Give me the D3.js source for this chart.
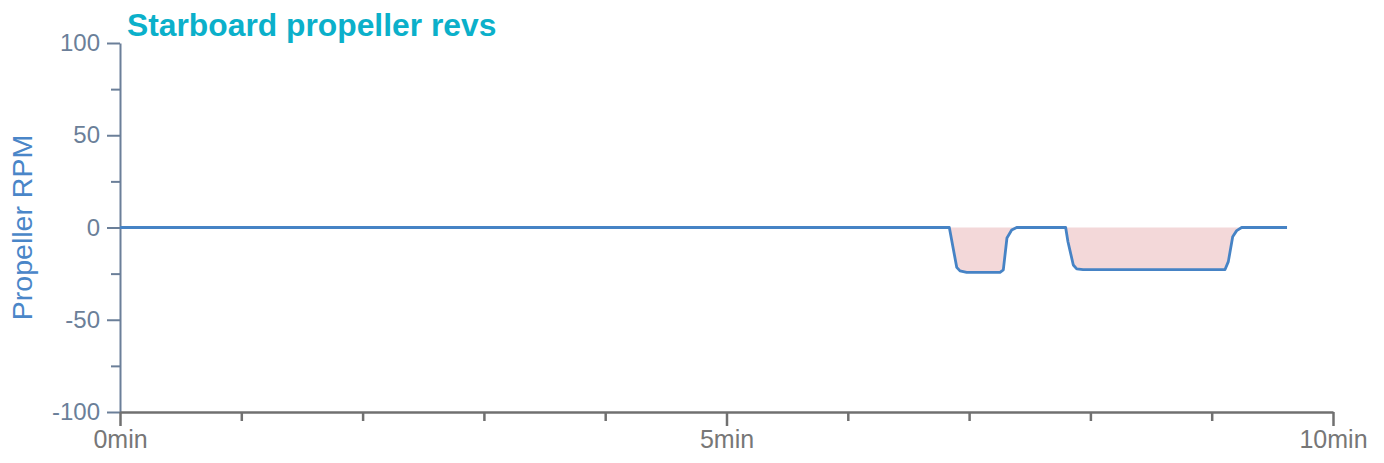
<!DOCTYPE html>
<html>
<head>
<meta charset="utf-8">
<script src="https://cdn.jsdelivr.net/npm/d3@7"></script>
<style>
  body { margin: 0; background: #fff; }
  svg { display: block; font-family: "Liberation Sans", Arial, sans-serif; }
</style>
</head>
<body>
<svg id="chart"></svg>
<script>
// time in minutes, propeller revs in RPM
var times = [0, 6.837, 6.898, 6.925, 6.98, 7.255, 7.282, 7.312, 7.351, 7.392,
             7.796, 7.815, 7.859, 7.887, 7.939, 9.110, 9.137, 9.173, 9.206, 9.247, 9.621];
var rpm   = [0, 0, -21.6, -23.5, -24.3, -24.3, -23, -5.7, -1.4, 0,
             0, -7.7, -20.3, -22.4, -22.8, -22.8, -18.5, -5, -1.7, 0, 0];
var yTicks = [-100, -50, 0, 50, 100];
var xTicks = [0, 5, 10];

var width = 1384, height = 463,
    margin = {top: 43, right: 51, bottom: 51, left: 120};

var data = times.map(function (t, i) { return {t: t, v: rpm[i]}; });

var svg = d3.select("#chart").attr("width", width).attr("height", height);

var x = d3.scaleLinear().domain([0, 10]).range([margin.left, width - margin.right]),
    y = d3.scaleLinear().domain([-100, 100]).range([height - margin.bottom, margin.top]);

// pink fill between curve and zero
svg.append("path")
    .datum(data)
    .attr("fill", "#f3d8d9")
    .attr("d", d3.area().x(function (d) { return x(d.t); }).y0(y(0)).y1(function (d) { return y(d.v); }));

// y axis, minor then major
var yMinor = svg.append("g").attr("transform", "translate(" + margin.left + ",0)")
    .call(d3.axisLeft(y).tickValues([-75, -25, 25, 75]).tickSize(9).tickFormat(""));
var yAxis = svg.append("g").attr("transform", "translate(" + margin.left + ",0)")
    .call(d3.axisLeft(y).tickValues(yTicks).tickSize(13).tickPadding(7).tickSizeOuter(0)
        .tickFormat(function (d) { return String(d); }));
[yMinor, yAxis].forEach(function (g) {
    g.selectAll("line, path").attr("stroke", "#6b7f99").attr("stroke-width", 2);
});
yMinor.select(".domain").remove();
yAxis.selectAll("text").attr("fill", "#6b7f99").style("font-size", "24px");

// x axis, minor then major
var xMinor = svg.append("g").attr("transform", "translate(0," + y(-100) + ")")
    .call(d3.axisBottom(x).tickValues(d3.range(1, 10).filter(function (m) { return m !== 5; })).tickSize(9).tickFormat(""));
var xAxis = svg.append("g").attr("transform", "translate(0," + y(-100) + ")")
    .call(d3.axisBottom(x).tickValues(xTicks).tickSize(14).tickPadding(4).tickSizeOuter(0)
        .tickFormat(function (d) { return d + "min"; }));
[xMinor, xAxis].forEach(function (g) {
    g.selectAll("line, path").attr("stroke", "#707070").attr("stroke-width", 2.5);
});
xMinor.select(".domain").remove();
xAxis.selectAll("text").attr("fill", "#777").style("font-size", "25px");

// line
svg.append("path")
    .datum(data)
    .attr("fill", "none")
    .attr("stroke", "#4683c5")
    .attr("stroke-width", 2.8)
    .attr("stroke-linejoin", "round")
    .attr("d", d3.line().x(function (d) { return x(d.t); }).y(function (d) { return y(d.v); }));

// title and axis label
svg.append("text")
    .attr("x", 127).attr("y", 36)
    .attr("fill", "#0bb0ca")
    .style("font-size", "31.8px").style("font-weight", "bold")
    .text("Starboard propeller revs");

svg.append("text")
    .attr("transform", "translate(32," + y(0) + ") rotate(-90)")
    .attr("text-anchor", "middle")
    .attr("fill", "#4a86c8")
    .style("font-size", "28.5px")
    .text("Propeller RPM");
</script>
</body>
</html>
